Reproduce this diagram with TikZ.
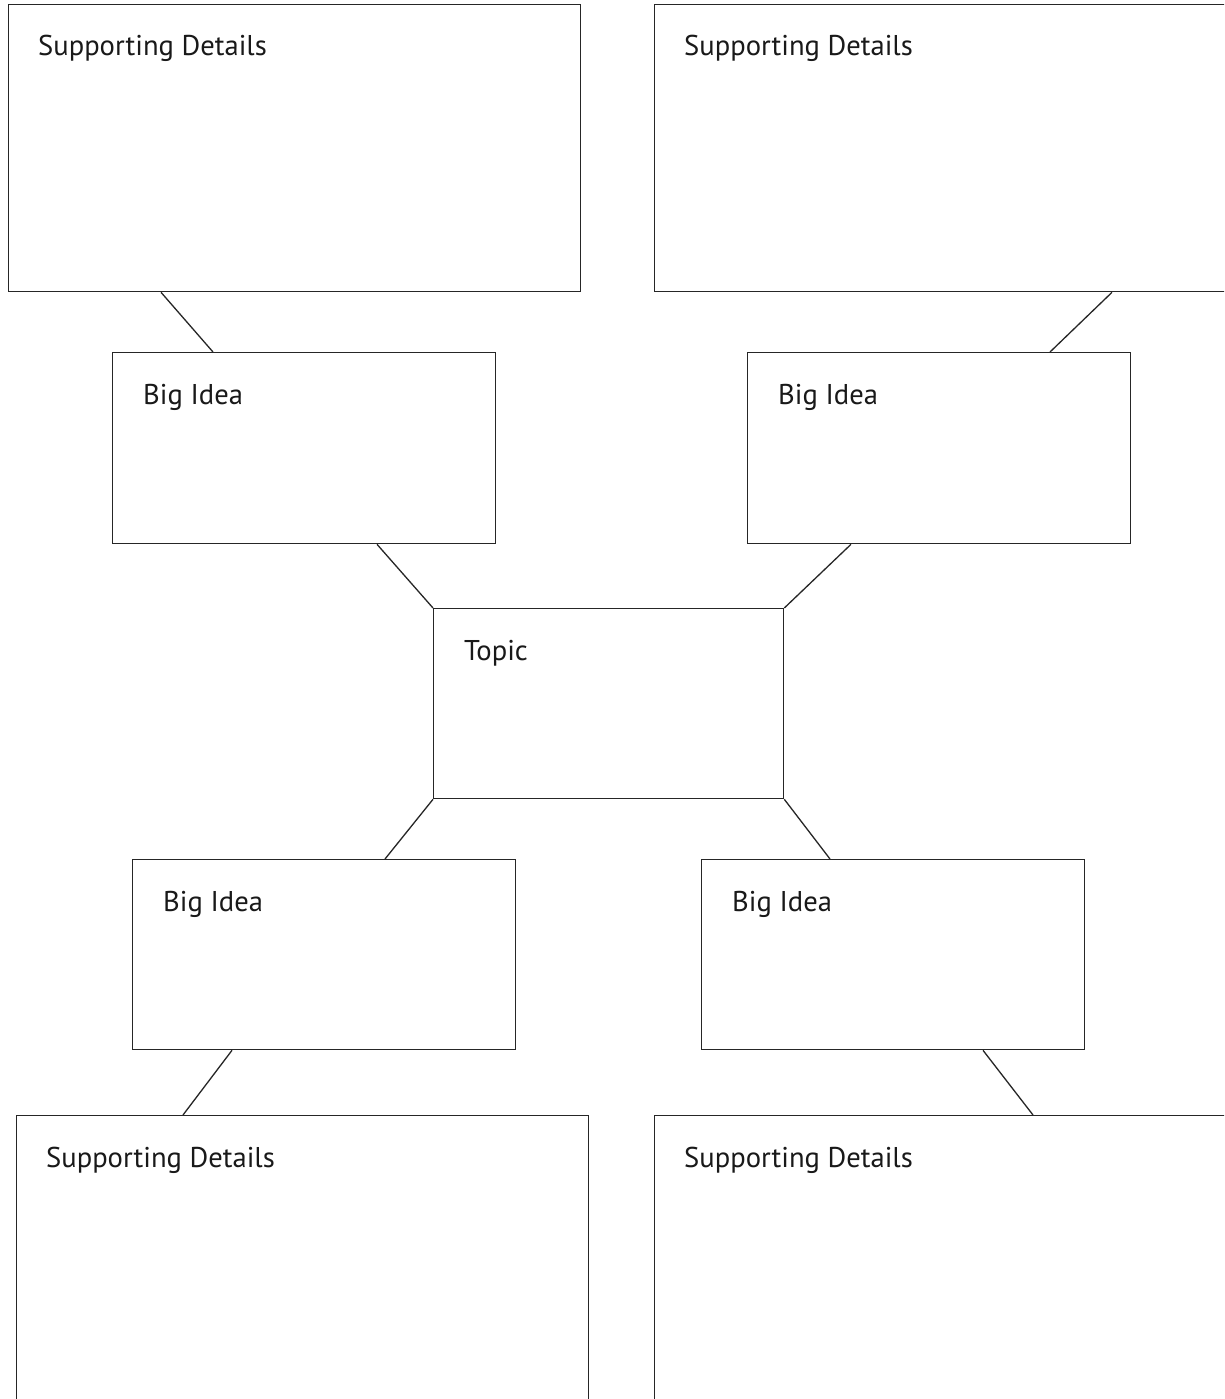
\documentclass[tikz,border=0pt]{standalone}
\usepackage{fontspec}
\setmainfont{PT Sans}
\usetikzlibrary{calc}
\tikzset{
  boxx/.style={draw=black!85, line width=1.3pt, rectangle, inner sep=0pt, anchor=north west},
  lbl/.style={anchor=base west, inner sep=0pt, font=\fontsize{28.6}{32}\selectfont, text=black!90},
  conn/.style={draw=black!85, line width=1.3pt}
}
\begin{document}
\begin{tikzpicture}[x=1pt,y=-1pt]
\clip (0,0) rectangle (1224,1399);
\fill[white] (0,0) rectangle (1224,1399);
% boxes
\node[boxx, minimum width=572pt, minimum height=287pt] (sd1) at (8,4) {};
\node[boxx, minimum width=600pt, minimum height=287pt] (sd2) at (654,4) {};
\node[boxx, minimum width=383pt, minimum height=191pt] (bi1) at (112,352) {};
\node[boxx, minimum width=383pt, minimum height=191pt] (bi2) at (747,352) {};
\node[boxx, minimum width=350pt, minimum height=190pt] (tp) at (433,608) {};
\node[boxx, minimum width=383pt, minimum height=190pt] (bi3) at (132,859) {};
\node[boxx, minimum width=383pt, minimum height=190pt] (bi4) at (701,859) {};
\node[boxx, minimum width=572pt, minimum height=320pt] (sd3) at (16,1115) {};
\node[boxx, minimum width=600pt, minimum height=320pt] (sd4) at (654,1115) {};
% labels
\node[lbl] (t1) at (38,56) {Supporting Details};
\node[lbl] (t2) at (684,56) {Supporting Details};
\node[lbl] (t3) at (143,404) {Big Idea};
\node[lbl] (t4) at (778,404) {Big Idea};
\node[lbl] (t5) at (464,660) {Topic};
\node[lbl] (t6) at (163,911) {Big Idea};
\node[lbl] (t7) at (732,911) {Big Idea};
\node[lbl] (t8) at (46,1167) {Supporting Details};
\node[lbl] (t9) at (684,1167) {Supporting Details};
% connectors
\draw[conn] ($(sd1.south west)+(153,0)$) -- ($(bi1.north west)+(101,0)$);
\draw[conn] ($(sd2.south west)+(458,0)$) -- ($(bi2.north west)+(303,0)$);
\draw[conn] ($(bi1.south west)+(265,0)$) -- (tp.north west);
\draw[conn] ($(bi2.south west)+(104,0)$) -- (tp.north east);
\draw[conn] (tp.south west) -- ($(bi3.north west)+(253,0)$);
\draw[conn] (tp.south east) -- ($(bi4.north west)+(129,0)$);
\draw[conn] ($(bi3.south west)+(100,0)$) -- ($(sd3.north west)+(167,0)$);
\draw[conn] ($(bi4.south west)+(282,0)$) -- ($(sd4.north west)+(379,0)$);
\end{tikzpicture}
\end{document}
